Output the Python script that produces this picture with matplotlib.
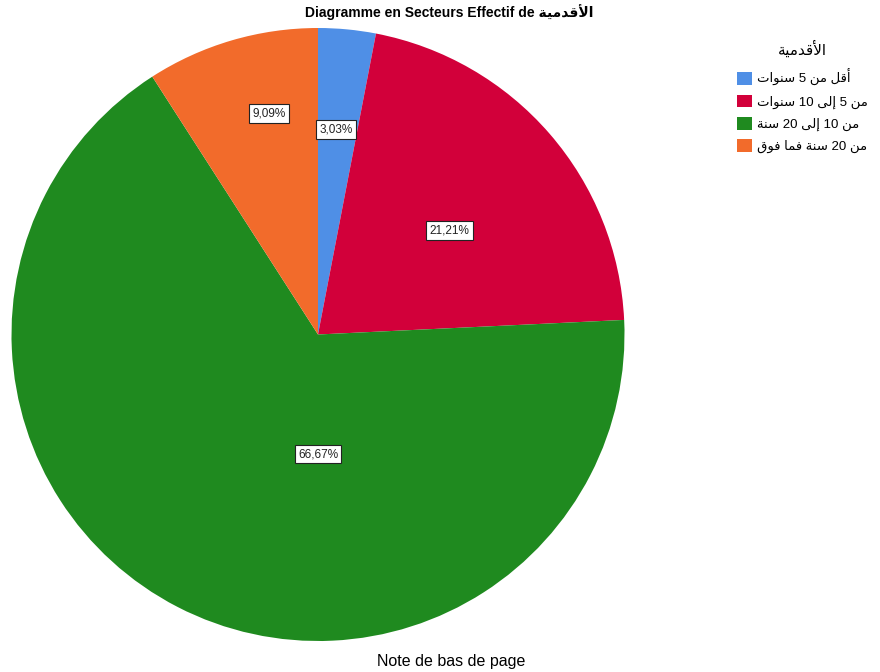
import matplotlib
matplotlib.use("Agg")
import matplotlib.pyplot as plt
from matplotlib.patches import Patch

plt.rcParams['font.family'] = ['Liberation Sans', 'DejaVu Sans']

# données
categories = ["أقل من 5 سنوات", "من 5 إلى 10 سنوات", "من 10 إلى 20 سنة", "من 20 سنة فما فوق"]
effectifs = [1, 7, 22, 3]
couleurs = ['#4f8fe6', '#d2003a', '#1f8a1f', '#f26b2b']
titre_var = "الأقدمية"

# formes contextuelles arabes : (isolée, finale, initiale, médiane)
FORMES = {
    'ا': (0xFE8D, 0xFE8E, None, None), 'أ': (0xFE83, 0xFE84, None, None),
    'إ': (0xFE87, 0xFE88, None, None), 'د': (0xFEA9, 0xFEAA, None, None),
    'و': (0xFEED, 0xFEEE, None, None), 'ة': (0xFE93, 0xFE94, None, None),
    'ى': (0xFEEF, 0xFEF0, None, None),
    'ل': (0xFEDD, 0xFEDE, 0xFEDF, 0xFEE0), 'ق': (0xFED5, 0xFED6, 0xFED7, 0xFED8),
    'م': (0xFEE1, 0xFEE2, 0xFEE3, 0xFEE4), 'ي': (0xFEF1, 0xFEF2, 0xFEF3, 0xFEF4),
    'ن': (0xFEE5, 0xFEE6, 0xFEE7, 0xFEE8), 'س': (0xFEB1, 0xFEB2, 0xFEB3, 0xFEB4),
    'ت': (0xFE95, 0xFE96, 0xFE97, 0xFE98), 'ف': (0xFED1, 0xFED2, 0xFED3, 0xFED4),
}
LAM_ALEF = {'ا': (0xFEFB, 0xFEFC), 'أ': (0xFEF7, 0xFEF8), 'إ': (0xFEF9, 0xFEFA)}


def joint_apres(c):
    return c in FORMES and FORMES[c][2] is not None


def arabe(texte):
    sortie = []
    i = 0
    while i < len(texte):
        c = texte[i]
        prec = texte[i - 1] if i > 0 else ''
        suiv = texte[i + 1] if i + 1 < len(texte) else ''
        if c not in FORMES:
            sortie.append(c)
            i += 1
            continue
        lie_avant = joint_apres(prec)
        if c == 'ل' and suiv in LAM_ALEF:
            sortie.append(chr(LAM_ALEF[suiv][1 if lie_avant else 0]))
            i += 2
            continue
        lie_apres = joint_apres(c) and suiv in FORMES
        f = FORMES[c]
        if lie_avant and lie_apres:
            code = f[3]
        elif lie_avant:
            code = f[1]
        elif lie_apres:
            code = f[2]
        else:
            code = f[0]
        sortie.append(chr(code))
        i += 1
    s = ''.join(sortie)[::-1]
    # les chiffres restent de gauche à droite
    res, bloc = '', ''
    for c in s:
        if c.isdigit():
            bloc += c
        else:
            res += bloc[::-1] + c
            bloc = ''
    return res + bloc[::-1]


fig = plt.figure(figsize=(8.8, 6.72), dpi=100)
ax = fig.add_axes([10 / 880, 31 / 672, 616 / 880, 613 / 672])

wedges, _, pcts = ax.pie(
    effectifs, colors=couleurs, startangle=90, counterclock=False,
    autopct=lambda p: f"{p:.2f}%".replace('.', ','),
    textprops=dict(fontsize=8.5, color='#222222'),
)
# positions des étiquettes (façon SPSS)
pos_etiq = [(0.06, 0.67), (0.43, 0.34), (0.0, -0.39), (-0.16, 0.72)]
for t, p in zip(pcts, pos_etiq):
    t.set_position(p)
    t.set_bbox(dict(facecolor='white', edgecolor='#222222', linewidth=0.8, pad=2.5))
ax.set_xlim(-1, 1)
ax.set_ylim(-1, 1)
ax.set_aspect('equal')

fig.text(0.51, 0.982, "Diagramme en Secteurs Effectif de " + arabe(titre_var),
         ha='center', va='center', fontsize=10, fontweight='bold')

handles = [Patch(facecolor=c, edgecolor='none') for c in couleurs]
leg = fig.legend(handles, [arabe(c) for c in categories], title=arabe(titre_var),
                 loc='upper left', bbox_to_anchor=(0.827, 0.953), frameon=False,
                 fontsize=9.5, title_fontsize=11, handlelength=1.1, handleheight=1.1,
                 handletextpad=0.4, labelspacing=0.62, borderpad=0.2)
leg._legend_box.sep = 8

fig.text(0.513, 0.016, "Note de bas de page", ha='center', va='center', fontsize=11.5)

fig.savefig("out.png", dpi=100)
